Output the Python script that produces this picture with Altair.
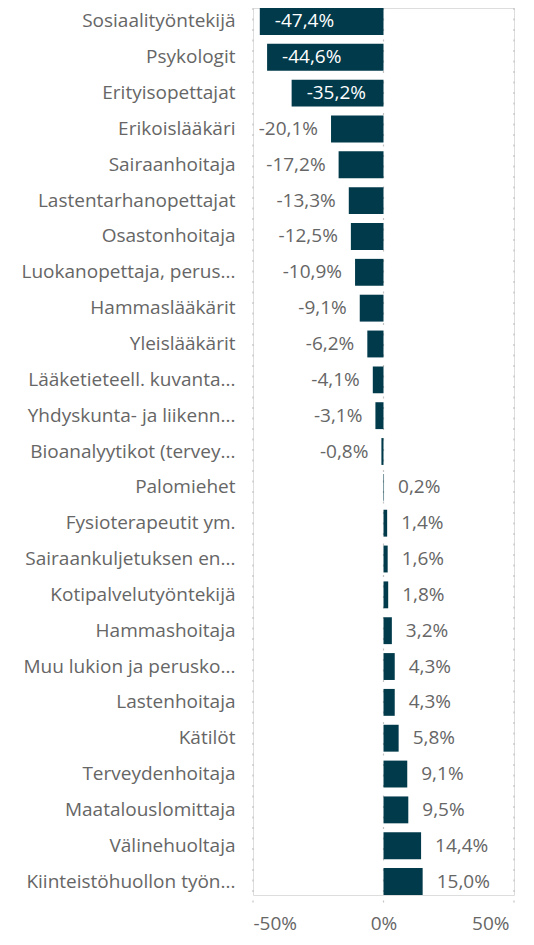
import altair as alt
import pandas as pd

categories = [
    "Sosiaalityöntekijä", "Psykologit", "Erityisopettajat", "Erikoislääkäri",
    "Sairaanhoitaja", "Lastentarhanopettajat", "Osastonhoitaja",
    "Luokanopettaja, perus...", "Hammaslääkärit", "Yleislääkärit",
    "Lääketieteell. kuvanta...", "Yhdyskunta- ja liikenn...",
    "Bioanalyytikot (tervey...", "Palomiehet", "Fysioterapeutit ym.",
    "Sairaankuljetuksen en...", "Kotipalvelutyöntekijä", "Hammashoitaja",
    "Muu lukion ja perusko...", "Lastenhoitaja", "Kätilöt",
    "Terveydenhoitaja", "Maatalouslomittaja", "Välinehuoltaja",
    "Kiinteistöhuollon työn...",
]
values = [
    -47.4, -44.6, -35.2, -20.1, -17.2, -13.3, -12.5, -10.9, -9.1, -6.2,
    -4.1, -3.1, -0.8, 0.2, 1.4, 1.6, 1.8, 3.2, 4.3, 4.3, 5.8, 9.1, 9.5,
    14.4, 15.0,
]
grid_values = [-50, 0, 50]

df = pd.DataFrame({"cat": categories, "val": values})
grid_df = pd.DataFrame({"g": grid_values})

FONT = "Open Sans"
GRAY = "#666666"
BAR = "#013A4A"
W, H = 261, 887

xscale = alt.Scale(domain=[-50, 50], nice=False, zero=False)
yscale = alt.Scale(paddingInner=0.25, paddingOuter=0)

base = alt.Chart(df).encode(
    y=alt.Y("cat:N", sort=categories, scale=yscale, title=None,
            axis=alt.Axis(ticks=False, domain=False, labelFont=FONT,
                          labelFontSize=19, labelColor=GRAY,
                          labelPadding=18, labelLimit=300)),
)

grid = alt.Chart(grid_df).mark_rule(
    color="#c4c4c4", strokeDash=[2, 8.5], strokeWidth=1.2
).encode(
    x=alt.X("g:Q", scale=xscale),
    y=alt.value(0),
    y2=alt.value(H + 15),
)

bars = base.mark_bar(color=BAR).encode(
    x=alt.X("val:Q", scale=xscale, title=None,
            axis=alt.Axis(values=grid_values, grid=False, ticks=False,
                          domain=False, labelFont=FONT, labelFontSize=19,
                          labelColor=GRAY, labelPadding=19,
                          labelOffset={"condition": {"test": "datum.value == 50",
                                                     "value": -5},
                                       "value": 0},
                          labelExpr="datum.value + '%'")),
    x2=alt.datum(0),
)

labelled = base.transform_calculate(
    lab="(datum.val < 0 ? '-' : '') + replace(format(abs(datum.val), '.1f'), '.', ',') + '%'"
)

inside = labelled.transform_filter("datum.val < -30").mark_text(
    align="left", baseline="middle", dx=15, font=FONT, fontSize=19,
    color="white"
).encode(x=alt.X("val:Q", scale=xscale), text="lab:N")

out_neg = labelled.transform_filter(
    "datum.val >= -30 && datum.val < 0"
).mark_text(
    align="right", baseline="middle", dx=-13, font=FONT, fontSize=19,
    color=GRAY
).encode(x=alt.X("val:Q", scale=xscale), text="lab:N")

out_pos = labelled.transform_filter("datum.val >= 0").mark_text(
    align="left", baseline="middle", dx=14, font=FONT, fontSize=19,
    color=GRAY
).encode(x=alt.X("val:Q", scale=xscale), text="lab:N")

chart = alt.layer(grid, bars, inside, out_neg, out_pos).properties(
    width=W, height=H,
    autosize=alt.AutoSizeParams(type="none"),
    padding={"left": 245, "top": 0, "right": 12, "bottom": 42},
).configure_view(stroke=None).configure(background="white")

chart.save("out.html", embed_options={"renderer": "svg", "actions": False})
